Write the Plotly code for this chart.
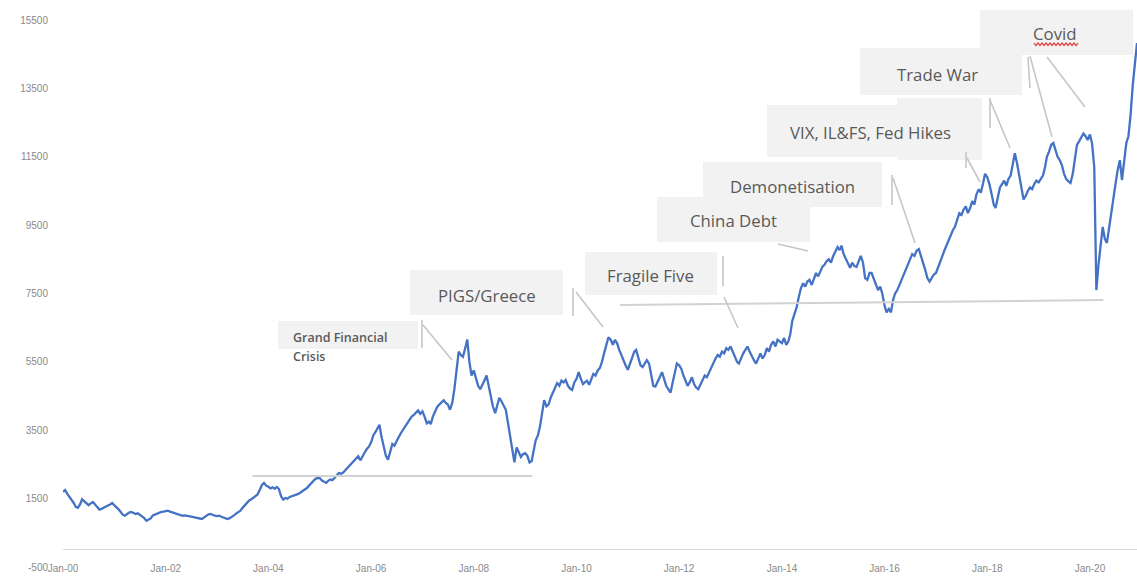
import plotly.graph_objects as go

# ---- index level, twice a month (1st and 16th), by era ----
level_2000_2004 = [
    # 2000
    1700, 1750, 1640, 1560, 1450, 1380, 1260, 1230, 1330, 1480, 1420, 1350,
    1310, 1360, 1400, 1330, 1260, 1180, 1200, 1240, 1260, 1300, 1330, 1370,
    # 2001
    1300, 1250, 1180, 1100, 1030, 1000, 1060, 1090, 1110, 1080, 1050, 1070,
    1020, 990, 930, 850, 900, 920, 1010, 1040, 1060, 1090, 1110, 1120,
    # 2002
    1130, 1150, 1120, 1100, 1080, 1060, 1040, 1020, 1000, 1010, 990, 980,
    970, 960, 940, 930, 920, 905, 950, 1000, 1040, 1050, 1020, 1000,
    # 2003
    990, 1000, 970, 950, 920, 905, 930, 960, 1010, 1060, 1110, 1150,
    1230, 1300, 1360, 1440, 1480, 1530, 1580, 1620, 1760, 1900, 1960, 1880,
    # 2004
    1850, 1800, 1830, 1790, 1840, 1780, 1560, 1470, 1520, 1500, 1550, 1570,
    1590, 1610, 1640, 1680, 1720, 1770, 1810, 1880, 1960, 2030, 2080, 2100,
]
level_2005_2009 = [
    # 2005
    2100, 2030, 1980, 1960, 2020, 2060, 2040, 2100, 2180, 2250, 2230, 2260,
    2330, 2400, 2450, 2520, 2600, 2680, 2740, 2620, 2720, 2850, 2950, 3020,
    # 2006
    3150, 3350, 3450, 3580, 3660, 3300, 3050, 2750, 2640, 2900, 3100, 3050,
    3200, 3300, 3420, 3520, 3600, 3700, 3820, 3900, 3950, 4020, 4080, 3980,
    # 2007
    4050, 3900, 3700, 3750, 3680, 3900, 4050, 4180, 4250, 4330, 4380, 4300,
    4250, 4100, 4300, 4700, 5300, 5800, 5700, 5650, 5900, 6150, 5500, 5100,
    # 2008
    5250, 5000, 4800, 4700, 4850, 4950, 5100, 4800, 4500, 4200, 4000, 4250,
    4450, 4350, 4200, 4100, 3700, 3300, 2900, 2560, 3000, 2850, 2720, 2800,
    # 2009
    2830, 2750, 2560, 2600, 2900, 3200, 3350, 3600, 4000, 4380, 4200, 4250,
    4450, 4600, 4750, 4880, 4800, 4950, 4900, 4970, 4800, 4720, 4680, 4900,
]
level_2010_2014 = [
    # 2010
    5000, 5200, 5000, 4850, 4900, 4950, 4830, 5000, 5150, 5100, 5250, 5320,
    5500, 5750, 6000, 6220, 6150, 6000, 6140, 6050, 5850, 5700, 5500, 5400,
    # 2011
    5270, 5450, 5600, 5800, 5850, 5600, 5400, 5350, 5450, 5550, 5450, 5100,
    4800, 4780, 4900, 5050, 5200, 5000, 4800, 4700, 4600, 4900, 5200, 5450,
    # 2012
    5400, 5300, 5100, 4950, 4800, 4900, 5050, 4850, 4750, 4700, 4850, 5000,
    5100, 5050, 5200, 5300, 5450, 5600, 5700, 5650, 5800, 5750, 5900, 5850,
    # 2013
    5950, 5800, 5600, 5500, 5450, 5600, 5750, 5850, 5950, 5800, 5650, 5550,
    5450, 5600, 5750, 5600, 5700, 5900, 5800, 6000, 6100, 5950, 6150, 6100,
    # 2014
    6050, 6200, 6000, 6100, 6300, 6700, 6900, 7100, 7400, 7650, 7800, 7700,
    7850, 7900, 7750, 7950, 8100, 8000, 8150, 8280, 8350, 8450, 8500, 8400,
]
level_2015_2020 = [
    # 2015
    8600, 8750, 8860, 8770, 8900, 8650, 8500, 8390, 8250, 8400, 8300, 8280,
    8450, 8600, 8400, 7950, 7900, 8100, 8100, 7950, 7800, 7600, 7700, 7500,
    # 2016
    7150, 6950, 7050, 6950, 7300, 7500, 7600, 7750, 7900, 8050, 8200, 8350,
    8500, 8650, 8600, 8750, 8800, 8600, 8450, 8200, 7950, 7850, 7950, 8050,
    # 2017
    8100, 8250, 8400, 8600, 8750, 8900, 9050, 9200, 9350, 9450, 9650, 9850,
    9800, 9950, 10050, 9850, 10000, 10200, 10100, 10400, 10550, 10450, 10700, 11000,
    # 2018
    10900, 10700, 10400, 10100, 10000, 10300, 10600, 10700, 10800, 10650, 10850, 10950,
    11300, 11600, 11300, 10950, 10600, 10250, 10350, 10500, 10600, 10550, 10700, 10800,
    # 2019
    10750, 10850, 10950, 11200, 11500, 11650, 11850, 11900, 11700, 11500, 11400, 11250,
    11000, 10850, 10780, 10730, 11000, 11500, 11850, 11950, 12050, 12180, 12100, 11990,
    # 2020
    12150, 11900, 11200, 7600, 8300, 8800, 9450, 9100, 8980, 9400, 9900, 10250,
    10700, 11100, 11400, 10820, 11300, 11900, 12100, 12700, 13600, 14200, 14825,
]
index_level = level_2000_2004 + level_2005_2009 + level_2010_2014 + level_2015_2020

# observation dates: 1st and 16th of every month from Jan 2000
dates = []
for year in range(2000, 2021):
    for month in range(1, 13):
        for day in (1, 16):
            dates.append(f"{year}-{month:02d}-{day:02d}")
dates = dates[:len(index_level)]

# ---- axes ----
y_ticks = [-500, 1500, 3500, 5500, 7500, 9500, 11500, 13500, 15500]
y_tick_text = ["-500", "1500", "3500", "5500", "7500", "9500", "11500", "13500", "15500"]
x_tick_dates = ["2000-01-01", "2002-01-01", "2004-01-01", "2006-01-01", "2008-01-01",
                "2010-01-01", "2012-01-01", "2014-01-01", "2016-01-01", "2018-01-01",
                "2020-01-01"]
x_tick_text = ["Jan-00", "Jan-02", "Jan-04", "Jan-06", "Jan-08", "Jan-10",
               "Jan-12", "Jan-14", "Jan-16", "Jan-18", "Jan-20"]

# ---- event callouts ----
event_labels = ["PIGS/Greece", "Fragile Five", "China Debt", "Demonetisation",
                "VIX, IL&FS, Fed Hikes", "Trade War", "Covid"]
crisis_lines = ["Grand Financial", "Crisis"]

# support levels (start date, end date, start level, end level)
support_levels = [
    ("2003-09-10", "2009-02-20", 2164, 2164),
    ("2010-11-05", "2020-04-05", 7160, 7310),
]

W, H = 1137, 576
L, R, T, B = 63, 0, 20, 9
PW, PH = W - L - R, H - T - B


def px(x):
    return (x - L) / PW


def py(y):
    return (H - B - y) / PH


TEXT = "#595959"
BOX = "#f2f2f2"
LEADER = "#c6c6c6"
FONT = "Open Sans"
AXIS_FONT = dict(family="Liberation Sans", size=10, color="#8a8a8a")

fig = go.Figure()
fig.add_trace(go.Scatter(
    x=dates, y=index_level, mode="lines",
    line=dict(color="#4472C4", width=2.3),
    hoverinfo="skip", showlegend=False,
))

shapes = []

# horizontal support lines
for d0, d1, v0, v1 in support_levels:
    shapes.append(dict(type="line", xref="x", yref="y", x0=d0, x1=d1, y0=v0, y1=v1,
                       line=dict(color="#d2d2d2", width=2)))

# callout boxes (pixel rectangles)
boxes = [
    (278, 418, 321, 349),
    (410, 563, 270, 315),
    (585, 717, 252, 295),
    (657, 810, 197, 242),
    (703, 882, 162, 207),
    (767, 963, 105, 157),
    (897, 982, 98, 160),
    (860, 1022, 48, 95),
    (980, 1133, 10, 55),
]
for x0, x1, y0, y1 in boxes:
    shapes.append(dict(type="rect", xref="paper", yref="paper",
                       x0=px(x0), x1=px(x1), y0=py(y1), y1=py(y0),
                       fillcolor=BOX, line=dict(width=0), layer="above"))

# leader lines from the boxes to the series
leaders = [
    (422, 320, 422, 348), (423, 325, 452, 360),
    (573, 288, 573, 316), (576, 292, 603, 327),
    (723, 256, 723, 286), (724, 297, 738, 328),
    (778, 244, 808, 251),
    (892, 175, 892, 205), (893, 178, 915, 243),
    (966, 152, 966, 168), (967, 158, 980, 182),
    (990, 98, 990, 128), (990, 100, 1010, 148),
    (1028, 57, 1030, 88), (1030, 56, 1052, 137),
    (1047, 57, 1085, 107),
]
for x0, y0, x1, y1 in leaders:
    shapes.append(dict(type="line", xref="paper", yref="paper",
                       x0=px(x0), y0=py(y0), x1=px(x1), y1=py(y1),
                       line=dict(color=LEADER, width=1.6)))

# red spell-check squiggle under "Covid"
pts = []
for i, xx in enumerate(range(1034, 1079, 2)):
    yy = 43 if i % 2 == 0 else 45.5
    pts.append(f"{px(xx)},{py(yy)}")
shapes.append(dict(type="path", xref="paper", yref="paper",
                   path="M " + " L ".join(pts),
                   line=dict(color="#e03030", width=1.2)))

annotations = []
label_pos = [(487, 295), (650, 275), (733, 220), (792, 187), (870, 132), (937, 74), (1055, 33)]
for text, (x, y) in zip(event_labels, label_pos):
    annotations.append(dict(xref="paper", yref="paper", x=px(x), y=py(y), text=text,
                            showarrow=False, xanchor="center", yanchor="middle",
                            font=dict(family=FONT, size=16.8, color=TEXT)))
for text, y in zip(crisis_lines, [337, 356]):
    annotations.append(dict(xref="paper", yref="paper", x=px(291), y=py(y), text=text,
                            showarrow=False, xanchor="left", yanchor="middle",
                            font=dict(family=FONT, size=12.5, color=TEXT, weight=600)))

fig.update_layout(
    width=W, height=H,
    margin=dict(l=L, r=R, t=T, b=B),
    paper_bgcolor="white", plot_bgcolor="white",
    shapes=shapes, annotations=annotations,
    showlegend=False,
    xaxis=dict(
        type="date", range=["2000-01-01", "2020-12-01"],
        tickvals=x_tick_dates, ticktext=x_tick_text,
        showgrid=False, showline=False, zeroline=False,
        ticks="", anchor="free", position=py(561),
        tickfont=AXIS_FONT,
    ),
    yaxis=dict(
        range=[-500, 15500], tickvals=y_ticks, ticktext=y_tick_text,
        showgrid=False, showline=False,
        zeroline=True, zerolinecolor="#dadada", zerolinewidth=1,
        ticks="outside", ticklen=12, tickcolor="rgba(0,0,0,0)",
        tickfont=AXIS_FONT,
    ),
)

fig.write_html("out.html")
